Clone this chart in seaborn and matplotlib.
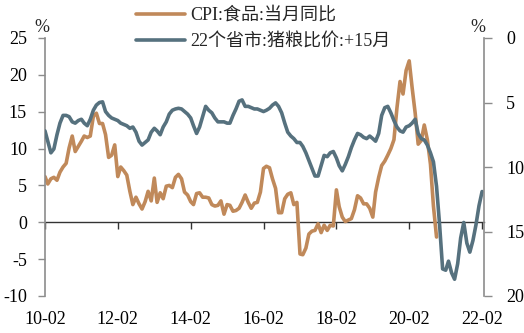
import matplotlib
matplotlib.use("Agg")
import matplotlib.pyplot as plt
import matplotlib.dates as mdates
import numpy as np
import pandas as pd
import seaborn as sns

# CPI: food, year-on-year (%), monthly from 2010-02 to 2020-11
cpi_food = [
    6.2, 5.2, 5.9, 6.1, 5.7, 6.8, 7.5, 8.0, 10.1, 11.7, 9.6,
    10.3, 11.0, 11.7, 11.5, 11.7, 14.4, 14.8, 13.4, 13.4, 11.9, 8.8, 9.1,
    10.5, 6.2, 7.5, 7.0, 6.4, 4.2, 2.4, 3.4, 2.5, 1.8, 2.8, 4.2,
    2.9, 6.0, 2.7, 4.0, 3.2, 4.9, 5.0, 4.7, 6.1, 6.5, 5.9, 4.1,
    3.7, 2.8, 2.4, 3.9, 4.0, 3.4, 3.4, 3.3, 2.4, 2.2, 2.3, 2.9,
    1.1, 2.4, 2.3, 1.5, 1.6, 1.9, 2.7, 3.7, 2.7, 1.9, 2.6, 2.7,
    4.1, 7.3, 7.6, 7.4, 5.9, 4.6, 1.3, 1.3, 3.2, 3.8, 4.0, 2.4,
    2.7, -4.3, -4.4, -3.5, -1.6, -1.2, -1.1, -0.2, -1.4, -0.4, -1.1, -0.4,
    -0.5, 4.4, 2.1, 0.7, 0.1, 0.3, 0.5, 1.7, 3.6, 3.3, 2.5, 2.5,
    1.9, 0.7, 4.1, 6.1, 7.7, 8.3, 9.1, 10.0, 11.2, 15.5, 19.1, 17.4,
    20.6, 21.9, 18.3, 14.8, 10.6, 11.1, 13.2, 11.2, 7.9, 2.2, -2.0,
]

# Hog-to-grain price ratio in 22 provinces, led by 15 months, monthly from 2010-02 to 2022-02
hog_grain = [
    7.2, 8.0, 8.9, 8.6, 7.5, 6.6, 6.0, 6.0, 6.1, 6.5, 6.6, 6.4,
    6.3, 6.6, 6.8, 6.3, 5.6, 5.2, 5.0, 4.95, 5.7, 6.0, 6.2, 6.3,
    6.4, 6.6, 6.7, 6.8, 7.0, 6.9, 7.3, 8.0, 8.3, 8.1, 7.9, 7.3,
    7.0, 7.2, 7.5, 6.9, 6.5, 5.9, 5.6, 5.5, 5.45, 5.5, 5.7, 5.9,
    6.2, 6.8, 7.4, 6.9, 6.1, 5.3, 5.6, 5.8, 6.2, 6.5, 6.5, 6.5,
    6.6, 6.6, 6.0, 5.5, 4.9, 4.8, 5.3, 5.3, 5.4, 5.5, 5.5, 5.6,
    5.7, 5.6, 5.45, 5.2, 5.03, 5.3, 5.8, 6.6, 7.3, 7.6, 7.8, 8.1,
    8.1, 8.4, 8.9, 9.5, 10.1, 10.7, 10.7, 9.9, 9.1, 9.2, 8.9, 8.8,
    9.3, 9.9, 10.3, 9.8, 9.2, 8.5, 7.9, 7.4, 7.5, 7.7, 7.8, 7.6,
    7.8, 8.0, 7.4, 6.0, 5.4, 5.3, 5.8, 6.4, 6.9, 7.2, 7.3, 6.9,
    6.8, 6.6, 6.3, 7.4, 7.8, 7.9, 8.3, 8.9, 9.6, 11.5, 14.4, 17.9,
    18.0, 17.3, 18.2, 18.7, 17.5, 15.5, 14.3, 15.9, 16.6, 15.7, 14.5, 13.0,
    11.9,
]

label_cpi = "CPI:食品:当月同比"
label_hog = "22个省市:猪粮比价:+15月"

left_ticks = [-10, -5, 0, 5, 10, 15, 20, 25]
right_ticks = [0, 5, 10, 15, 20]
x_tick_dates = pd.date_range("2010-02-01", "2022-02-01", freq="24MS")

cpi_dates = pd.date_range("2010-02-01", periods=len(cpi_food), freq="MS")
hog_dates = pd.date_range("2010-02-01", periods=len(hog_grain), freq="MS")
df_cpi = pd.DataFrame({"date": cpi_dates, "value": cpi_food})
df_hog = pd.DataFrame({"date": hog_dates, "value": hog_grain})

sns.set_style("white")
plt.rcParams["font.family"] = ["Liberation Serif", "Noto Sans CJK SC", "DejaVu Sans"]
plt.rcParams["axes.unicode_minus"] = False

c_cpi = "#C0895A"
c_hog = "#56717E"
c_spine = "#8C8C8C"
fs = 13

fig = plt.figure(figsize=(5.24, 3.33), dpi=100)
ax = fig.add_axes([45 / 524, 1 - 296 / 333, 439 / 524, 258 / 333])
ax2 = ax.twinx()

sns.lineplot(data=df_cpi, x="date", y="value", ax=ax, color=c_cpi, lw=2.6, label=label_cpi, legend=False)
sns.lineplot(data=df_hog, x="date", y="value", ax=ax2, color=c_hog, lw=2.6, label=label_hog, legend=False)

ax.set_ylim(-10, 25)
ax.set_yticks(left_ticks)
ax2.set_ylim(20, 0)
ax2.set_yticks(right_ticks)
ax.set_xlim(pd.Timestamp("2010-02-01"), pd.Timestamp("2022-02-20"))
ax.set_xlabel("")
ax.set_ylabel("")
ax2.set_ylabel("")

ax.set_xticks(x_tick_dates)
ax.xaxis.set_major_formatter(mdates.DateFormatter("%y-%m"))
ax.tick_params(axis="x", length=0, pad=11, labelsize=fs, colors="black")
ax.tick_params(axis="y", direction="out", length=5, width=1, color=c_spine, pad=8, labelsize=fs, labelcolor="black", left=True)
ax2.tick_params(axis="y", direction="out", length=6, width=1, color=c_spine, pad=10, labelsize=fs, labelcolor="black", right=True)

for s in ["top", "right", "bottom"]:
    ax.spines[s].set_visible(False)
ax.spines["left"].set_color(c_spine)
ax.spines["left"].set_linewidth(1.2)
for s in ["top", "left", "bottom"]:
    ax2.spines[s].set_visible(False)
ax2.spines["right"].set_color(c_spine)
ax2.spines["right"].set_linewidth(1.2)

# zero line with date ticks hanging below it
zero_frac = (0 - left_ticks[0]) / (left_ticks[-1] - left_ticks[0])
sec = ax.secondary_xaxis(zero_frac)
sec.set_xticks(x_tick_dates)
sec.xaxis.set_ticks_position("bottom")
sec.tick_params(axis="x", direction="out", length=5, width=1, color="#333333", labelbottom=False, labeltop=False)
for s in sec.spines.values():
    s.set_color("#333333")
    s.set_linewidth(1.0)

fig.text(42 / 524, 1 - 27 / 333, "%", ha="center", va="center", fontsize=fs)
fig.text(478 / 524, 1 - 27 / 333, "%", ha="center", va="center", fontsize=fs)

h1, l1 = ax.get_legend_handles_labels()
h2, l2 = ax2.get_legend_handles_labels()
fig.legend(h1 + h2, l1 + l2, loc="upper left", bbox_to_anchor=(136 / 524, 1 - 7 / 333),
           frameon=False, fontsize=13, handlelength=2.7, handletextpad=0.3,
           labelspacing=0.5, borderpad=0.0, borderaxespad=0.0)

fig.savefig("out.png", dpi=100)
